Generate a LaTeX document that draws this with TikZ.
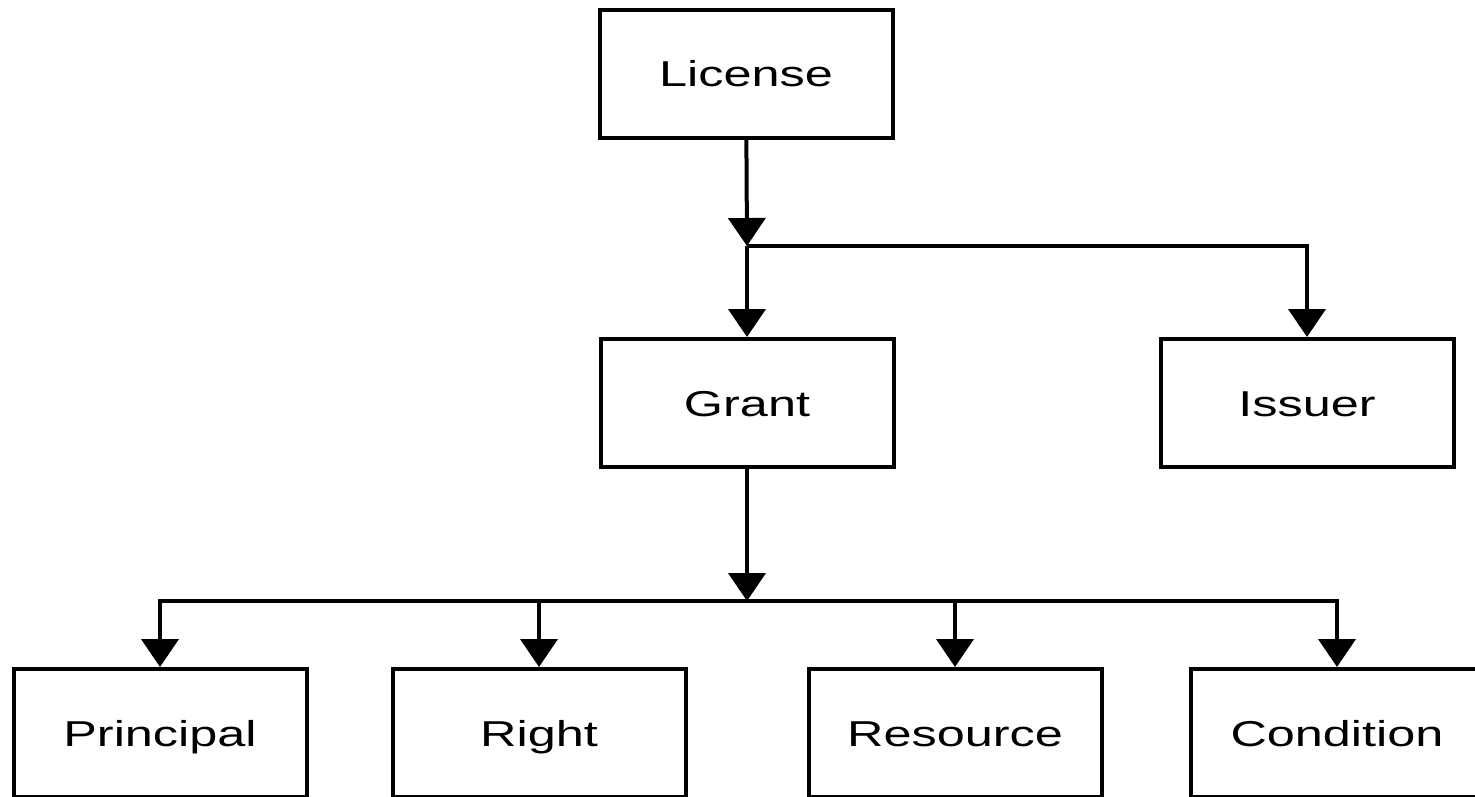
\documentclass[tikz,border=0pt]{standalone}
\usepackage{fontspec}
\setmainfont{Liberation Sans}[FakeStretch=1.4]
\usetikzlibrary{arrows.meta}
\tikzset{
  box/.style={draw,line width=4pt,minimum width=293pt,minimum height=128pt,inner sep=0pt,
    text height=26pt,text depth=0pt,font=\fontsize{36}{40}\selectfont},
  link/.style={line width=4pt,-{Triangle[width=37pt,length=28pt]}},
  bus/.style={line width=4pt}
}
\begin{document}
\begin{tikzpicture}[x=1pt,y=-1pt]
      \useasboundingbox (0,0) rectangle (1475,797);
      \clip (0,0) rectangle (1475,797);
      \node[box] (license) at (746,74) {License};
      \node[box] (grant) at (747,403) {Grant};
      \node[box] (issuer) at (1307,403) {Issuer};
      \node[box] (principal) at (160,733) {Principal};
      \node[box] (right) at (539,733) {Right};
      \node[box] (resource) at (955,733) {Resource};
      \node[box] (condition) at (1337,733) {Condition};
      \coordinate (j1) at (747,246);
      \coordinate (j2) at (747,601);
      \draw[link] (license) -- (j1);
      \draw[link] (j1) -- (grant);
      \draw[link] (j1) -| (issuer);
      \draw[link] (grant) -- (j2);
      \draw[bus] ([xshift=-2pt]j2 -| principal) -- ([xshift=2pt]j2 -| condition);
      \foreach \n in {principal,right,resource,condition}
        \draw[link] (j2 -| \n) -- (\n);
    \end{tikzpicture}
\end{document}
